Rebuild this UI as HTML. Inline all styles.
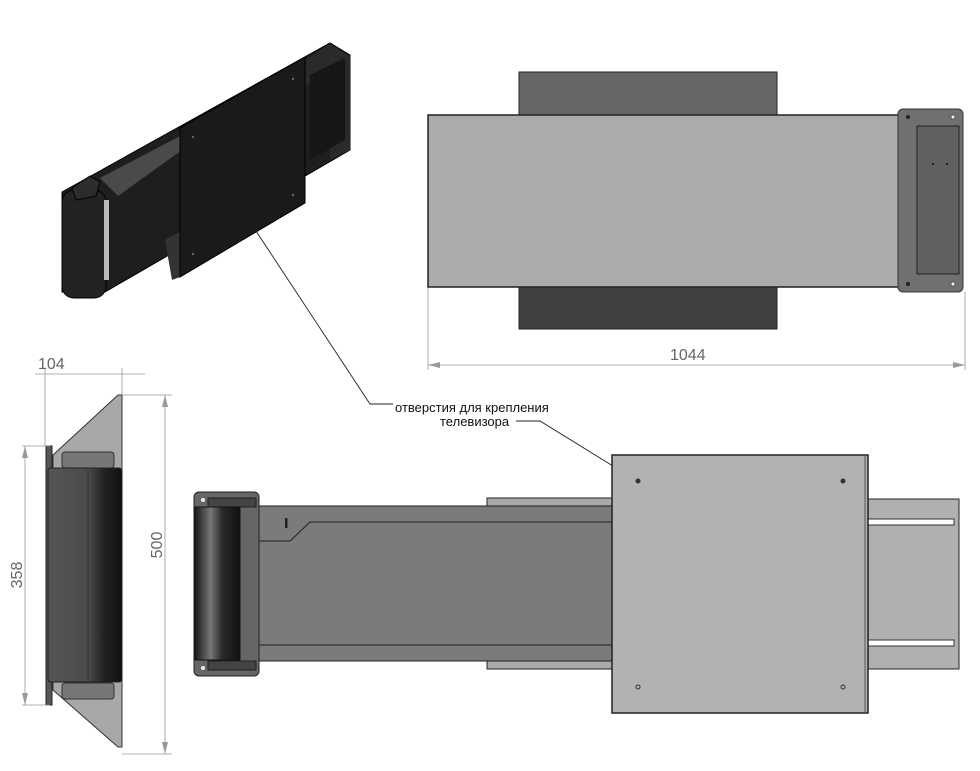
<!DOCTYPE html>
<html><head><meta charset="utf-8"><style>
html,body{margin:0;padding:0;background:#fff;}
svg{display:block;}
text{font-family:"Liberation Sans",sans-serif;}
</style></head><body>
<svg width="980" height="771" viewBox="0 0 980 771" xmlns="http://www.w3.org/2000/svg">
<defs>
<linearGradient id="roll" x1="0" x2="1" y1="0" y2="0">
<stop offset="0" stop-color="#1a1a1a"/><stop offset="0.35" stop-color="#777"/><stop offset="0.6" stop-color="#2a2a2a"/><stop offset="1" stop-color="#111"/></linearGradient>
<linearGradient id="cyl" x1="0" x2="1"><stop offset="0" stop-color="#555"/><stop offset="0.55" stop-color="#4a4a4a"/><stop offset="0.75" stop-color="#222"/><stop offset="1" stop-color="#111"/></linearGradient>
</defs>

<!-- ISO VIEW -->
<polygon points="62,192 330,43 350,55 350,150 105,292 62,292" fill="#1e1e1e" stroke="#000"/>
<polygon points="100,178 180,136 182,150 118,196" fill="#4a4a4a"/>
<polygon points="305,60 330,44 350,56 350,150 330,160 330,80 305,85" fill="#2a2a2a"/>
<polygon points="310,75 345,58 345,140 310,160" fill="#161616"/>
<rect x="62" y="190" width="44" height="108" rx="12" fill="#222" stroke="#000"/>
<polygon points="72,188 90,176 100,182 96,196 76,200" fill="#2c2c2c" stroke="#000"/>
<rect x="104" y="200" width="5" height="80" fill="#bbb"/>
<polygon points="165,240 180,232 180,277 172,280" fill="#333"/>
<polygon points="180,128 305,57 305,203 180,277" fill="#1a1a1a" stroke="#000"/>
<circle cx="193" cy="137" r="1.2" fill="#666"/><circle cx="293" cy="79" r="1.2" fill="#666"/><circle cx="293" cy="195" r="1.2" fill="#666"/><circle cx="193" cy="254" r="1.2" fill="#666"/>

<!-- leader -->
<polyline points="196,140 370,404 393,404" fill="none" stroke="#222" stroke-width="0.9"/>
<text x="395" y="412" font-size="13" fill="#111">отверстия для крепления</text>
<text x="440" y="426" font-size="13" fill="#111">телевизора</text>
<polyline points="516,421 540,421 634,479" fill="none" stroke="#222" stroke-width="0.9"/>
<polygon points="638,481 628,478 631,473" fill="#222"/>

<!-- TOP RIGHT VIEW -->
<rect x="519" y="72" width="258" height="44" fill="#666" stroke="#222"/>
<rect x="519" y="286" width="258" height="43" fill="#404040" stroke="#222"/>
<rect x="428" y="115" width="472" height="172" fill="#ababab" stroke="#222" stroke-width="1.5"/>
<rect x="898" y="109" width="65" height="183" rx="5" fill="#707070" stroke="#333"/>
<rect x="917" y="126" width="42" height="148" fill="#606060" stroke="#222"/>
<circle cx="908" cy="117" r="2" fill="#222"/><circle cx="953" cy="117" r="2" fill="#eee" stroke="#222" stroke-width="0.6"/>
<circle cx="908" cy="284" r="2" fill="#222"/><circle cx="953" cy="284" r="2" fill="#eee" stroke="#222" stroke-width="0.6"/>
<circle cx="933" cy="164" r="1" fill="#111"/><circle cx="947" cy="164" r="1" fill="#111"/>
<line x1="428" y1="288" x2="428" y2="370" stroke="#999" stroke-width="0.8"/>
<line x1="965" y1="292" x2="965" y2="370" stroke="#999" stroke-width="0.8"/>
<line x1="428" y1="365" x2="965" y2="365" stroke="#999" stroke-width="0.8"/>
<polygon points="428,365 440,362 440,368" fill="#999"/><polygon points="965,365 953,362 953,368" fill="#999"/>
<text x="670" y="360" font-size="16" fill="#666">1044</text>

<!-- LEFT VIEW -->
<line x1="45" y1="368" x2="45" y2="446" stroke="#999" stroke-width="0.8"/>
<line x1="122" y1="368" x2="122" y2="395" stroke="#999" stroke-width="0.8"/>
<line x1="35" y1="374" x2="145" y2="374" stroke="#999" stroke-width="0.8"/>
<text x="38" y="369" font-size="16" fill="#666">104</text>
<polygon points="53,455 118,395 122,395 122,747 118,747 53,690" fill="#a8a8a8" stroke="#333"/>
<rect x="46" y="446" width="6" height="259" fill="#555" stroke="#222"/>
<rect x="62" y="452" width="52" height="16" rx="3" fill="#777" stroke="#333"/>
<rect x="62" y="683" width="52" height="16" rx="3" fill="#777" stroke="#333"/>
<rect x="48" y="468" width="74" height="214" rx="3" fill="url(#cyl)" stroke="#222"/>
<line x1="88" y1="470" x2="88" y2="680" stroke="#333"/>
<line x1="22" y1="446" x2="50" y2="446" stroke="#999" stroke-width="0.8"/>
<line x1="22" y1="705" x2="50" y2="705" stroke="#999" stroke-width="0.8"/>
<line x1="25" y1="446" x2="25" y2="705" stroke="#999" stroke-width="0.8"/>
<polygon points="25,446 22,458 28,458" fill="#999"/><polygon points="25,705 22,693 28,693" fill="#999"/>
<text transform="translate(22,575) rotate(-90)" font-size="16" fill="#666" text-anchor="middle">358</text>
<line x1="122" y1="395" x2="172" y2="395" stroke="#999" stroke-width="0.8"/>
<line x1="122" y1="754" x2="172" y2="754" stroke="#999" stroke-width="0.8"/>
<line x1="165" y1="395" x2="165" y2="754" stroke="#999" stroke-width="0.8"/>
<polygon points="165,395 162,407 168,407" fill="#999"/><polygon points="165,754 162,742 168,742" fill="#999"/>
<text transform="translate(162,545) rotate(-90)" font-size="16" fill="#666" text-anchor="middle">500</text>

<!-- BOTTOM VIEW -->
<rect x="487" y="498" width="128" height="22" fill="#aaa" stroke="#222"/>
<rect x="487" y="647" width="128" height="22" fill="#aaa" stroke="#222"/>
<rect x="240" y="506" width="375" height="155" fill="#7b7b7b" stroke="#222"/>
<polyline points="245,541 290,541 310,522 615,522" fill="none" stroke="#222"/>
<line x1="245" y1="645" x2="615" y2="645" stroke="#222"/>
<rect x="285" y="518" width="2.5" height="10" fill="#222"/>
<rect x="194" y="492" width="65" height="184" rx="5" fill="#666" stroke="#222"/>
<rect x="208" y="498" width="48" height="9" fill="#444" stroke="#222"/>
<rect x="208" y="661" width="48" height="9" fill="#444" stroke="#222"/>
<circle cx="203" cy="500" r="2" fill="#eee"/><circle cx="203" cy="668" r="2" fill="#eee"/>
<rect x="195" y="507" width="45" height="153" fill="url(#roll)" stroke="#111"/>
<rect x="866" y="499" width="93" height="170" fill="#b0b0b0" stroke="#222"/>
<rect x="866" y="519" width="88" height="6" fill="#fff" stroke="#333"/>
<rect x="866" y="640" width="88" height="6" fill="#fff" stroke="#333"/>
<rect x="612" y="455" width="256" height="258" fill="#b2b2b2" stroke="#222" stroke-width="1.5"/>
<line x1="865" y1="455" x2="865" y2="713" stroke="#555"/>
<circle cx="638" cy="481" r="2.5" fill="#333"/><circle cx="843" cy="481" r="2.5" fill="#333"/>
<circle cx="638" cy="687" r="2" fill="none" stroke="#333"/><circle cx="843" cy="687" r="2" fill="none" stroke="#333"/>
</svg>
</body></html>
